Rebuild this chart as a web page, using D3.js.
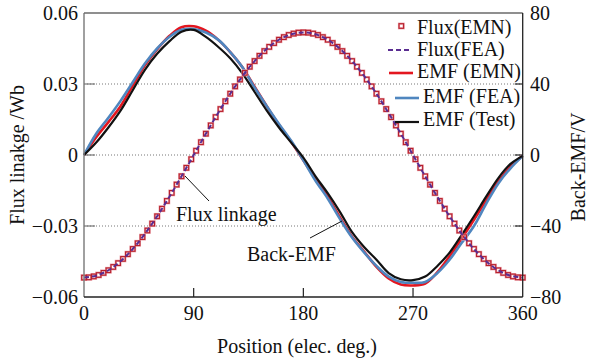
<!DOCTYPE html>
<html><head><meta charset="utf-8">
<script src="https://cdn.jsdelivr.net/npm/d3@7"></script>
<style>body{margin:0;background:#fff}svg{display:block}text{font-family:"Liberation Serif","Times New Roman",serif;fill:#111}</style>
</head><body><svg id="c" width="590" height="363"></svg>
<script>
// ---- data ----
const fluxAngles = d3.range(0, 361, 4);
const fluxEMN = [-0.0518,-0.0517,-0.0513,-0.0507,-0.0498,-0.0487,-0.0473,-0.0457,-0.0439,-0.0419,-0.0397,-0.0373,-0.0347,-0.0319,-0.0290,-0.0259,-0.0227,-0.0194,-0.0160,-0.0125,-0.0090,-0.0054,-0.0018,
 0.0018,0.0054,0.0090,0.0125,0.0160,0.0194,0.0227,0.0259,0.0290,0.0319,0.0347,0.0373,0.0397,0.0419,0.0439,0.0457,0.0473,0.0487,0.0498,0.0507,0.0513,0.0517,0.0518,
 0.0517,0.0513,0.0507,0.0498,0.0487,0.0473,0.0457,0.0439,0.0419,0.0397,0.0373,0.0347,0.0319,0.0290,0.0259,0.0227,0.0194,0.0160,0.0125,0.0090,0.0054,0.0018,
 -0.0018,-0.0054,-0.0090,-0.0125,-0.0160,-0.0194,-0.0227,-0.0259,-0.0290,-0.0319,-0.0347,-0.0373,-0.0397,-0.0419,-0.0439,-0.0457,-0.0473,-0.0487,-0.0498,-0.0507,-0.0513,-0.0517,-0.0518];
const emfAngles = d3.range(0, 361, 10);
const fluxFEA = [-0.0518,-0.0510,-0.0487,-0.0449,-0.0397,-0.0333,-0.0259,-0.0177,-0.0090,0,0.0090,0.0177,0.0259,0.0333,0.0397,0.0449,0.0487,0.0510,0.0518,
 0.0510,0.0487,0.0449,0.0397,0.0333,0.0259,0.0177,0.0090,0,-0.0090,-0.0177,-0.0259,-0.0333,-0.0397,-0.0449,-0.0487,-0.0510,-0.0518];
const emfEMN = [0,10,18.5,27.5,39,50.5,59.5,67,72,72.5,70,65,58,49.5,38.5,27.5,17,7.5,-3,-13.5,-23.5,-35,-46,-54.5,-63,-69.5,-73,-73.5,-72.5,-66,-57,-47,-36.5,-25.5,-15,-6.5,-0.5];
const emfFEA = [0,12,21,30.5,41,51.5,60,66.5,70.5,71,69,65,58,49.5,38,27.5,17.5,8,-3,-14.5,-24.5,-36,-46.5,-55,-62.5,-68.5,-71.5,-72,-71.5,-66.5,-59,-49.5,-40,-27.5,-16,-7.5,-0.5];
const emfTest = [0,7,15.5,25,36.5,48,57,64,69.5,70.5,66.5,61,54.5,46,35.5,25,15.5,7,-1.5,-12,-21.5,-32,-43.5,-52,-59,-66.5,-70,-70.5,-68.5,-62.5,-55,-45,-34.5,-23.5,-13,-5,-0.5];
const xTicks = [0,90,180,270,360];
const yLeftTicks = [-0.06,-0.03,0,0.03,0.06];
const yRightTicks = [-80,-40,0,40,80];
const legendLabels = ["Flux(EMN)","Flux(FEA)","EMF (EMN)","EMF (FEA)","EMF (Test)"];

// ---- layout ----
const L = 84, R = 522.7, T = 13, B = 297;
const svg = d3.select("#c");
const x = d3.scaleLinear().domain([0,360]).range([L,R]);
const yL = d3.scaleLinear().domain([-0.06,0.06]).range([B,T]);
const yR = d3.scaleLinear().domain([-80,80]).range([B,T]);
const fmtL = d => d === 0 ? "0" : (d < 0 ? "\u2212" : "") + Math.abs(d).toFixed(2);
const fmtR = d => d === 0 ? "0" : (d < 0 ? "\u2212" : "") + Math.abs(d);

// grid (dotted)
svg.append("g").selectAll("line").data([-0.03,0,0.03]).join("line")
  .attr("x1", L).attr("x2", R).attr("y1", d => yL(d)).attr("y2", d => yL(d))
  .attr("stroke", "#777").attr("stroke-width", 1).attr("stroke-dasharray", "1,2");

// inner ticks
svg.append("g").selectAll("line").data([-0.03,0,0.03]).join("line")
  .attr("x1", L).attr("x2", L+11).attr("y1", d => yL(d)).attr("y2", d => yL(d))
  .attr("stroke", "#777").attr("stroke-width", 1.2);
svg.append("g").selectAll("line").data([-40,0,40]).join("line")
  .attr("x1", R-8).attr("x2", R).attr("y1", d => yR(d)).attr("y2", d => yR(d))
  .attr("stroke", "#222").attr("stroke-width", 1.2);
svg.append("g").selectAll("line").data(xTicks.slice(1,4)).join("line")
  .attr("x1", d => x(d)).attr("x2", d => x(d)).attr("y1", B-9).attr("y2", B)
  .attr("stroke", "#222").attr("stroke-width", 1.2);

// tick labels
svg.append("g").selectAll("text").data(yLeftTicks).join("text")
  .attr("x", 78).attr("y", d => yL(d)+7).attr("text-anchor","end").attr("font-size",20).text(fmtL);
svg.append("g").selectAll("text").data(yRightTicks).join("text")
  .attr("x", 530).attr("y", d => yR(d)+7).attr("text-anchor","start").attr("font-size",20).text(fmtR);
svg.append("g").selectAll("text").data(xTicks).join("text")
  .attr("x", d => x(d)).attr("y", 320).attr("text-anchor","middle").attr("font-size",20).text(d => d);

// axis titles
svg.append("text").attr("transform","translate(24,155) rotate(-90)").attr("text-anchor","middle")
  .attr("font-size",20).text("Flux linakge /Wb");
svg.append("text").attr("transform","translate(585,167) rotate(-90)").attr("text-anchor","middle")
  .attr("font-size",20).text("Back-EMF/V");
svg.append("text").attr("x",297).attr("y",353).attr("text-anchor","middle")
  .attr("font-size",20).text("Position (elec. deg.)");

// curves
const emfLine = arr => d3.line().x((d,i) => x(emfAngles[i])).y(d => yR(d)).curve(d3.curveCatmullRom.alpha(0.5))(arr);
svg.append("path").attr("d", emfLine(emfEMN)).attr("fill","none").attr("stroke","#e3161f").attr("stroke-width",2.6);
svg.append("path").attr("d", emfLine(emfFEA)).attr("fill","none").attr("stroke","#4f86bf").attr("stroke-width",2.6);
svg.append("path").attr("d", emfLine(emfTest)).attr("fill","none").attr("stroke","#111").attr("stroke-width",2.2);

// flux markers
const mg = svg.append("g");
mg.selectAll("rect.h").data(fluxEMN).join("rect").attr("class","h")
  .attr("x", (d,i) => x(fluxAngles[i]) - 2.3).attr("y", d => yL(d) - 2.3).attr("width",4.6).attr("height",4.6)
  .attr("fill","none").attr("stroke","#eaa2aa").attr("stroke-width",2.2);
mg.selectAll("rect.m").data(fluxEMN).join("rect").attr("class","m")
  .attr("x", (d,i) => x(fluxAngles[i]) - 2.3).attr("y", d => yL(d) - 2.3).attr("width",4.6).attr("height",4.6)
  .attr("fill","none").attr("stroke","#b8202c").attr("stroke-width",1.1);
const fluxLine = d3.line().x((d,i) => x(emfAngles[i])).y(d => yL(d)).curve(d3.curveCatmullRom.alpha(0.5));
svg.append("path").attr("d", fluxLine(fluxFEA)).attr("fill","none").attr("stroke","#5a2d91")
  .attr("stroke-width",2).attr("stroke-dasharray","5,3");

// frame
svg.append("line").attr("x1",L).attr("x2",L).attr("y1",T).attr("y2",B).attr("stroke","#808080").attr("stroke-width",1.5);
svg.append("line").attr("x1",L).attr("x2",R).attr("y1",T).attr("y2",T).attr("stroke","#6a6a6a").attr("stroke-width",1.3);
svg.append("line").attr("x1",R).attr("x2",R).attr("y1",T).attr("y2",B).attr("stroke","#222").attr("stroke-width",1.3);
svg.append("line").attr("x1",L).attr("x2",R).attr("y1",B).attr("y2",B).attr("stroke","#222").attr("stroke-width",1.3);

// legend
const lg = svg.append("g");
const rowsY = [34,56,78,103,126];
const symY = [26,50,73,98,122];
const textX = [417,417,417,423,423];
lg.selectAll("text").data(legendLabels).join("text")
  .attr("x",(d,i)=>textX[i]).attr("y",(d,i)=>rowsY[i]).attr("font-size",20).text(d=>d);
lg.append("rect").attr("x",399).attr("y",symY[0]-2.3).attr("width",4.6).attr("height",4.6)
  .attr("fill","none").attr("stroke","#eaa2aa").attr("stroke-width",2.2);
lg.append("rect").attr("x",399).attr("y",symY[0]-2.3).attr("width",4.6).attr("height",4.6)
  .attr("fill","none").attr("stroke","#b8202c").attr("stroke-width",1.1);
lg.append("line").attr("x1",388).attr("x2",412).attr("y1",symY[1]).attr("y2",symY[1])
  .attr("stroke","#5a2d91").attr("stroke-width",2).attr("stroke-dasharray","5,3");
lg.append("line").attr("x1",389).attr("x2",413).attr("y1",symY[2]).attr("y2",symY[2])
  .attr("stroke","#e3161f").attr("stroke-width",2.6);
lg.append("line").attr("x1",395).attr("x2",419).attr("y1",symY[3]).attr("y2",symY[3])
  .attr("stroke","#4f86bf").attr("stroke-width",2.6);
lg.append("line").attr("x1",395).attr("x2",419).attr("y1",symY[4]).attr("y2",symY[4])
  .attr("stroke","#111").attr("stroke-width",2.2);

// annotations
svg.append("line").attr("x1",185).attr("y1",176).attr("x2",209).attr("y2",201).attr("stroke","#111").attr("stroke-width",1);
svg.append("text").attr("x",176).attr("y",221).attr("font-size",20).text("Flux linkage");
svg.append("line").attr("x1",310).attr("y1",238).attr("x2",342).attr("y2",221).attr("stroke","#111").attr("stroke-width",1);
svg.append("text").attr("x",247).attr("y",261).attr("font-size",20).text("Back-EMF");
</script></body></html>
